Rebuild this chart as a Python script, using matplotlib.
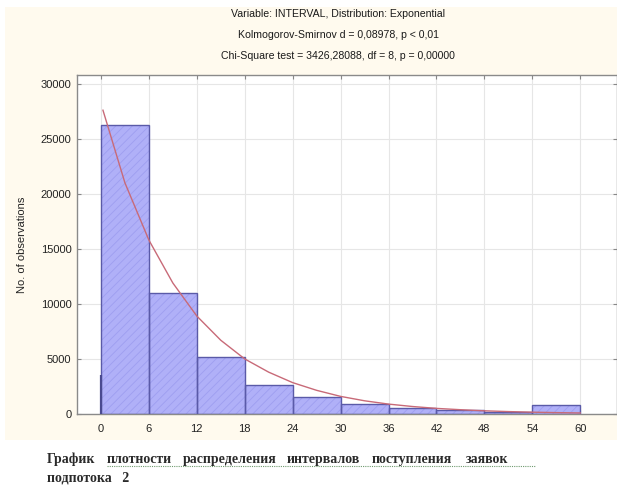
import numpy as np
import matplotlib
matplotlib.use('Agg')
import matplotlib.pyplot as plt
from matplotlib.patches import Rectangle
from matplotlib.lines import Line2D

# Гистограмма интервалов (ширина класса 6)
bin_left = [0, 6, 12, 18, 24, 30, 36, 42, 48, 54]
counts = [26300, 11000, 5200, 2600, 1500, 930, 550, 350, 150, 800]

# Подобранная экспоненциальная кривая (ожидаемые частоты)
curve_x = [0.25, 3, 6, 9, 12, 15, 18, 21, 24, 27, 30, 33, 36, 39, 42, 45, 48, 51, 54, 57, 60]
curve_y = [27600, 21000, 15800, 11900, 8900, 6700, 5000, 3800, 2850, 2150, 1600,
           1200, 900, 680, 510, 390, 290, 220, 165, 125, 95]

x_ticks = [0, 6, 12, 18, 24, 30, 36, 42, 48, 54, 60]
y_ticks = [0, 5000, 10000, 15000, 20000, 25000, 30000]

title_lines = ['Variable: INTERVAL, Distribution: Exponential',
               'Kolmogorov-Smirnov d = 0,08978, p < 0,01',
               'Chi-Square test = 3426,28088, df = 8, p = 0,00000']

plt.rcParams['font.family'] = ['Liberation Sans', 'DejaVu Sans']
plt.rcParams['hatch.linewidth'] = 0.6

fig = plt.figure(figsize=(6.17, 4.86), dpi=100, facecolor='white')

# кремовый фон окна графика
fig.patches.append(Rectangle((5 / 617, 1 - 440 / 486), 612 / 617, 433 / 486,
                             transform=fig.transFigure, facecolor='#fffaee',
                             edgecolor='none', zorder=-1))

ax = fig.add_axes([77 / 617, 1 - 414 / 486, 1 - 77 / 617, 339 / 486])
ax.set_zorder(1)
ax.set_facecolor('white')

# столбцы: заливка со штриховкой, потом контур
ax.bar(bin_left, counts, width=6, align='edge', color='#b0b0f8',
       edgecolor='#9e9ef0', hatch='////', linewidth=0, zorder=2)
ax.bar(bin_left, counts, width=6, align='edge', fill=False,
       edgecolor='#5a5aa8', linewidth=1.0, zorder=3)
ax.vlines(0, 0, 3500, color='#4a4a90', linewidth=1.6, zorder=3)

ax.plot(curve_x, curve_y, color='#c86a78', linewidth=1.0, zorder=4)

ax.set_xlim(-3.0, 64.6)
ax.set_ylim(0, 30800)
ax.set_xticks(x_ticks)
ax.set_yticks(y_ticks)
ax.set_xticklabels([str(v) for v in x_ticks])
ax.set_yticklabels([str(v) for v in y_ticks])
ax.grid(True, color='#e6e6e6', linewidth=0.8, zorder=0)
ax.set_axisbelow(True)

ax.tick_params(axis='both', which='both', direction='in', length=3,
               color='#888888', labelsize=8, labelcolor='#222222',
               top=True, right=True)
ax.tick_params(axis='y', pad=4)
ax.tick_params(axis='x', pad=7)
for side in ['left', 'bottom', 'top', 'right']:
    ax.spines[side].set_color('#8a8a8a')
    ax.spines[side].set_linewidth(1.0)

ax.set_ylabel('No. of observations', fontsize=8, color='#222222', labelpad=10)

for i, line in enumerate(title_lines):
    fig.text(338 / 617, 1 - (14 + 21 * i) / 486, line, ha='center', va='center',
             fontsize=7.6, color='#1a1a1a')

# подпись под рисунком
cap_font = dict(family=['Liberation Serif', 'DejaVu Serif'], fontsize=10,
                fontweight='bold', color='#2a2a2a', va='center', ha='left')
words = ['График', 'плотности', 'распределения', 'интервалов', 'поступления', 'заявок']
word_x = [47, 107, 183, 287, 372, 466]
for w, xp in zip(words, word_x):
    fig.text(xp / 617, 1 - 459 / 486, w, **cap_font)
fig.text(47 / 617, 1 - 478 / 486, 'подпотока   2', **cap_font)
fig.lines.append(Line2D([107 / 617, 535 / 617], [1 - 466 / 486, 1 - 466 / 486],
                        transform=fig.transFigure, color='#6f9a6f',
                        linewidth=0.8, linestyle=(0, (1, 1))))

fig.savefig('out.png', dpi=100, facecolor='white')
